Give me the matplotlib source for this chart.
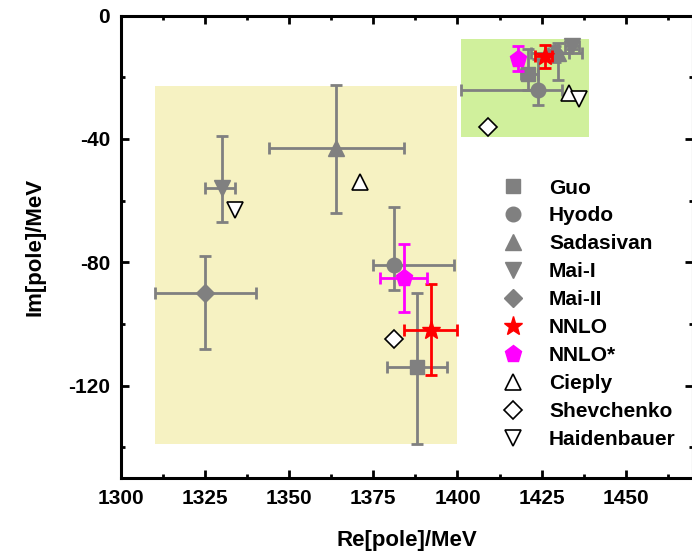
import numpy as np
import matplotlib.pyplot as plt
from matplotlib.lines import Line2D
from matplotlib.patches import Rectangle
from matplotlib.ticker import MultipleLocator

plt.rcParams['font.family'] = ['Liberation Sans', 'DejaVu Sans']
plt.rcParams['font.weight'] = 'bold'
plt.rcParams['axes.unicode_minus'] = False

GRAY = "#808080"

# pole positions: re, im; errors per pole as [minus, plus]
guo_re = [1388, 1421]
guo_im = [-114, -19]
guo_re_err = [[9, 9], [2, 3]]
guo_im_err = [[25, 24], [5, 8]]

hyodo_re = [1381, 1424]
hyodo_im = [-81, -24]
hyodo_re_err = [[6, 18], [23, 7]]
hyodo_im_err = [[8, 19], [5, 10]]

sadasivan_re = [1364, 1430]
sadasivan_im = [-43, -12]
sadasivan_re_err = [[20, 20], [3, 3]]
sadasivan_im_err = [[21, 20.5], [9, 3]]

mai1_re = [1330, 1434]
mai1_im = [-56, -10]
mai1_re_err = [[5, 4], [2, 2]]
mai1_im_err = [[11, 17], [1, 2]]

mai2_re = [1325, 1429]
mai2_im = [-90, -12]
mai2_re_err = [[15, 15], [7, 8]]
mai2_im_err = [[18, 12], [3, 2]]

nnlo_re = [1392, 1426]
nnlo_im = [-102, -13]
nnlo_re_err = [[8, 8], [3, 2]]
nnlo_im_err = [[14.6, 15], [4, 3.5]]

nnlos_re = [1384, 1418]
nnlos_im = [-85, -14]
nnlos_re_err = [[7, 7], [1, 1]]
nnlos_im_err = [[11, 11], [4, 4]]

cieply_re = [1371, 1433]
cieply_im = [-54, -25]

shevchenko_re = [1381, 1409]
shevchenko_im = [-105, -36]

haidenbauer_re = [1334, 1436]
haidenbauer_im = [-63, -27]

fig = plt.figure(figsize=(6.92, 5.51), dpi=100)
ax = fig.add_axes([121 / 692, 1 - 478 / 551, 572 / 692, 462.5 / 551])

ax.add_patch(Rectangle((1310, -139), 90, 116, facecolor="#f6f2c2", edgecolor="none", zorder=0))
ax.add_patch(Rectangle((1401, -39.3), 38, 31.7, facecolor="#d0f09c", edgecolor="none", zorder=0))

def err_pts(re, im, rerr, ierr, marker, color, ms, z):
    xe = np.array(rerr).T
    ye = np.array(ierr).T
    ax.errorbar(re, im, xerr=xe, yerr=ye, fmt=marker, color=color, mec=color, mfc=color,
                ms=ms, elinewidth=2.0, capsize=4, capthick=2.0, zorder=z)

err_pts(guo_re, guo_im, guo_re_err, guo_im_err, "s", GRAY, 10, 2)
err_pts(hyodo_re, hyodo_im, hyodo_re_err, hyodo_im_err, "o", GRAY, 10.5, 2)
err_pts(sadasivan_re, sadasivan_im, sadasivan_re_err, sadasivan_im_err, "^", GRAY, 11.5, 2)
err_pts(mai1_re, mai1_im, mai1_re_err, mai1_im_err, "v", GRAY, 11.5, 2)
err_pts(mai2_re, mai2_im, mai2_re_err, mai2_im_err, "D", GRAY, 9.5, 2)
err_pts(nnlo_re, nnlo_im, nnlo_re_err, nnlo_im_err, "*", "red", 14, 3)
err_pts(nnlos_re, nnlos_im, nnlos_re_err, nnlos_im_err, "p", "magenta", 12.5, 3)

ax.plot(cieply_re, cieply_im, "^", ms=11.5, mfc="white", mec="black", mew=1.2, ls="none", zorder=4)
ax.plot(shevchenko_re, shevchenko_im, "D", ms=9.5, mfc="white", mec="black", mew=1.2, ls="none", zorder=4)
ax.plot(haidenbauer_re, haidenbauer_im, "v", ms=11.5, mfc="white", mec="black", mew=1.2, ls="none", zorder=4)

handles = [
    Line2D([], [], marker="s", color=GRAY, ls="none", ms=10),
    Line2D([], [], marker="o", color=GRAY, ls="none", ms=10.5),
    Line2D([], [], marker="^", color=GRAY, ls="none", ms=11.5),
    Line2D([], [], marker="v", color=GRAY, ls="none", ms=11.5),
    Line2D([], [], marker="D", color=GRAY, ls="none", ms=9.5),
    Line2D([], [], marker="*", color="red", ls="none", ms=14),
    Line2D([], [], marker="p", color="magenta", ls="none", ms=12.5),
    Line2D([], [], marker="^", mfc="white", mec="black", ls="none", ms=11.5, mew=1.2),
    Line2D([], [], marker="D", mfc="white", mec="black", ls="none", ms=9.5, mew=1.2),
    Line2D([], [], marker="v", mfc="white", mec="black", ls="none", ms=11.5, mew=1.2),
]
labels = ["Guo", "Hyodo", "Sadasivan", "Mai-I", "Mai-II", "NNLO", "NNLO*",
          "Cieply", "Shevchenko", "Haidenbauer"]
ax.legend(handles, labels, loc="upper left", bbox_to_anchor=(500.5 / 692, 1 - 178.5 / 551),
          bbox_transform=fig.transFigure, frameon=False, fontsize=15,
          labelspacing=0.43, handletextpad=1.13, handlelength=1.2, borderpad=0, borderaxespad=0)

ax.set_xlim(1300, 1470)
ax.set_ylim(-150, 0)
ax.xaxis.set_major_locator(MultipleLocator(25))
ax.xaxis.set_minor_locator(MultipleLocator(12.5))
ax.yaxis.set_major_locator(MultipleLocator(40))
ax.yaxis.set_minor_locator(MultipleLocator(20))
ax.tick_params(which="both", direction="in", top=True, right=True, width=2, labelsize=15)
ax.tick_params(which="major", length=6, pad=8)
ax.tick_params(which="minor", length=3)
for sp in ax.spines.values():
    sp.set_linewidth(2.2)

ax.set_xlabel("Re[pole]/MeV", fontsize=16, fontweight="bold", labelpad=16)
ax.set_ylabel("Im[pole]/MeV", fontsize=16, fontweight="bold", labelpad=16)

fig.savefig("out.png", dpi=100)
